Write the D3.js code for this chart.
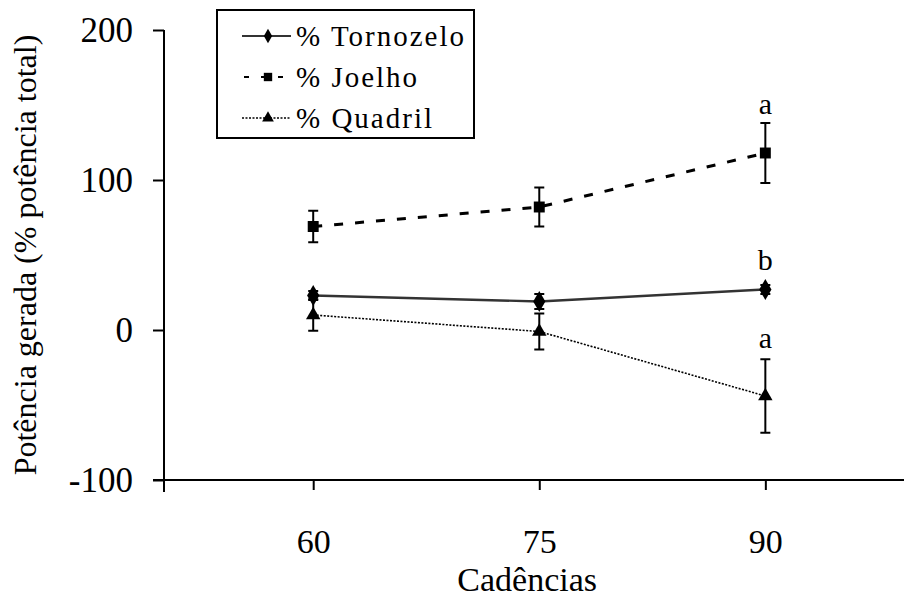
<!DOCTYPE html>
<html>
<head>
<meta charset="utf-8">
<script src="https://cdn.jsdelivr.net/npm/d3@7"></script>
<style>
  html, body { margin: 0; padding: 0; background: #fff; }
  svg { display: block; }
</style>
</head>
<body>
<svg id="chart" width="905" height="599"></svg>
<script>
// ---- data ----
const cadences = [60, 75, 90];
const tornozelo = [23, 19, 27];
const tornozeloErr = [3, 5, 3];
const joelho = [69, 82, 118];
const joelhoErr = [10.5, 13, 20];
const quadril = [10, -1, -44];
const quadrilErr = [10.5, 12, 24.5];
const yTicks = [-100, 0, 100, 200];
const seriesNames = ["% Tornozelo", "% Joelho", "% Quadril"];
// significance letters at cadence 90, anchored at a value on the y scale
const sigCadence = [90, 90, 90];
const sigValue = [144, 40, -12];
const sigText = ["a", "b", "a"];
const xTitle = "Cadências";
const yTitle = "Potência gerada (% potência total)";

const FONT = '"Liberation Serif"';

// ---- layout ----
const svg = d3.select("#chart");
const x = d3.scaleLinear().domain([50.1, 99.2]).range([164, 904]);
const y = d3.scaleLinear().domain([-100, 200]).range([480, 30]);

const series = [
  { name: seriesNames[0], vals: tornozelo, err: tornozeloErr, shape: d3.symbolDiamond, size: 130, lsize: 60,
    stroke: "#333", width: 2.4, dash: null },
  { name: seriesNames[1], vals: joelho, err: joelhoErr, shape: d3.symbolSquare, size: 120, lsize: 70,
    stroke: "#000", width: 3, dash: "9,12" },
  { name: seriesNames[2], vals: quadril, err: quadrilErr, shape: d3.symbolTriangle, size: 90, lsize: 60,
    stroke: "#000", width: 1.6, dash: "2,1.5" }
];

// axes
const yAxis = d3.axisLeft(y).tickValues(yTicks).tickSize(11).tickSizeOuter(0).tickPadding(20)
  .tickFormat(d => String(d));
const gy = svg.append("g").attr("transform", `translate(${x.range()[0]},0)`).call(yAxis);
gy.select(".domain").remove();
gy.selectAll(".tick line").attr("stroke", "#000").attr("stroke-width", 2);
gy.selectAll(".tick text").style("font-family", FONT).style("font-size", "35px")
  .attr("dy", "0.34em").attr("fill", "#000");

const xAxis = d3.axisBottom(x).tickValues(cadences).tickSize(10).tickSizeOuter(0).tickPadding(39)
  .tickFormat(d => String(d));
const gx = svg.append("g").attr("transform", `translate(0,${y(-100)})`).call(xAxis);
gx.select(".domain").remove();
gx.selectAll(".tick line").attr("stroke", "#000").attr("stroke-width", 2);
gx.selectAll(".tick text").style("font-family", FONT).style("font-size", "34px").attr("fill", "#000");

// axis lines
svg.append("line")
  .attr("x1", x.range()[0]).attr("x2", x.range()[0])
  .attr("y1", y(200)).attr("y2", y(-100) + 12)
  .attr("stroke", "#000").attr("stroke-width", 2);
svg.append("line")
  .attr("x1", x.range()[0] - 11).attr("x2", x.range()[1])
  .attr("y1", y(-100)).attr("y2", y(-100))
  .attr("stroke", "#000").attr("stroke-width", 2);

// titles
svg.append("text").attr("x", x(74.2)).attr("y", 591)
  .attr("text-anchor", "middle").style("font-family", FONT).style("font-size", "34px").text(xTitle);
svg.append("text")
  .attr("transform", `translate(36,${(y(200) + y(-100)) / 2}) rotate(-90)`)
  .attr("text-anchor", "middle").style("font-family", FONT).style("font-size", "32px").text(yTitle);

// lines
const line = d3.line().x((d, i) => x(cadences[i])).y(d => y(d));
series.forEach(s => {
  svg.append("path").datum(s.vals)
    .attr("d", line).attr("fill", "none")
    .attr("stroke", s.stroke).attr("stroke-width", s.width)
    .attr("stroke-dasharray", s.dash);
});

// error bars + markers
series.forEach(s => {
  const g = svg.append("g");
  s.vals.forEach((v, i) => {
    const cx = x(cadences[i]);
    g.append("line").attr("x1", cx).attr("x2", cx)
      .attr("y1", y(v + s.err[i])).attr("y2", y(v - s.err[i]))
      .attr("stroke", "#000").attr("stroke-width", 2);
    [v + s.err[i], v - s.err[i]].forEach(e => {
      g.append("line").attr("x1", cx - 5).attr("x2", cx + 5)
        .attr("y1", y(e)).attr("y2", y(e))
        .attr("stroke", "#000").attr("stroke-width", 2);
    });
    g.append("path")
      .attr("d", d3.symbol().type(s.shape).size(s.size)())
      .attr("transform", `translate(${cx},${y(v)})`)
      .attr("fill", "#000");
  });
});

// significance letters
sigText.forEach((t, i) => {
  svg.append("text").attr("x", x(sigCadence[i])).attr("y", y(sigValue[i]))
    .attr("text-anchor", "middle").style("font-family", FONT).style("font-size", "30px").text(t);
});

// legend
const leg = svg.append("g");
leg.append("rect").attr("x", 217).attr("y", 10).attr("width", 257).attr("height", 128)
  .attr("fill", "#fff").attr("stroke", "#000").attr("stroke-width", 2);
series.forEach((s, i) => {
  const ly = 36 + i * 41;
  leg.append("line").attr("x1", 242).attr("x2", 291).attr("y1", ly).attr("y2", ly)
    .attr("stroke", s.stroke).attr("stroke-width", i === 2 ? 1.5 : 2)
    .attr("stroke-dasharray", i === 1 ? "5,12" : (i === 2 ? "2,1.5" : null))
    .attr("stroke-dashoffset", i === 1 ? -2 : 0);
  leg.append("path").attr("d", d3.symbol().type(s.shape).size(s.lsize)())
    .attr("transform", `translate(268,${ly})`).attr("fill", "#000");
  leg.append("text").attr("x", 296).attr("y", ly + 10)
    .style("font-family", FONT).style("font-size", "29px").style("letter-spacing", "2px").text(s.name);
});
</script>
</body>
</html>
